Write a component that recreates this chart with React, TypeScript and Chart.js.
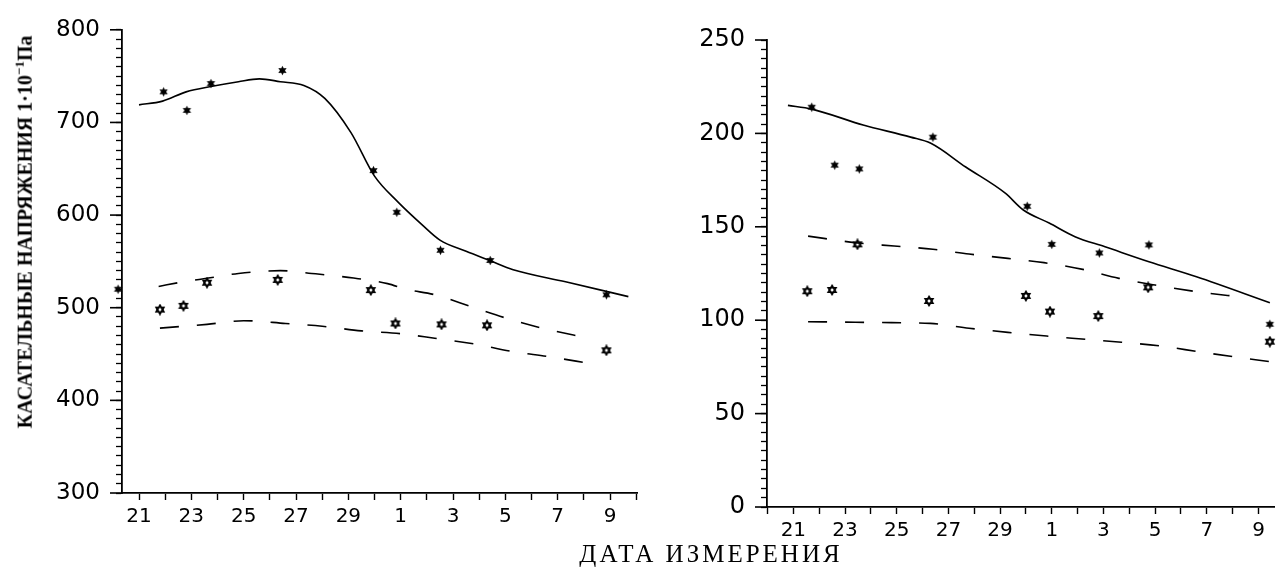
import React, { useEffect, useRef } from 'react';
import { Chart, registerables } from 'chart.js';

Chart.register(...registerables);

// ---------- shared axis labels ----------
const xLabelDays = [21, 23, 25, 27, 29, 31, 33, 35, 37, 39];
const xLabelTexts = ['21', '23', '25', '27', '29', '1', '3', '5', '7', '9'];
const yTitleMain = 'КАСАТЕЛЬНЫЕ НАПРЯЖЕНИЯ';
const yTitleUnitA = '1·10';
const yTitleUnitSup = '−1';
const yTitleUnitB = 'Па';
const xTitle = 'ДАТА ИЗМЕРЕНИЯ';

// ---------- left panel ----------
const leftTickDays = [21, 22, 23, 24, 25, 26, 27, 28, 29, 30, 31, 32, 33, 34, 35, 36, 37, 38, 39, 40];
const leftYMajor = [300, 400, 500, 600, 700, 800];

const leftSolidDays = [21.0, 21.9, 22.8, 23.8, 24.8, 25.6, 26.4, 27.3, 28.1, 29.1, 30.0, 30.9, 31.8, 32.5, 33.5, 34.4, 35.3, 37.3, 39.7];
const leftSolidValues = [719, 723, 733, 739, 744, 747, 744, 740, 726, 689, 642, 614, 590, 573, 561, 551, 541, 528, 512];

const leftDashUpperDays = [21.75, 22.7, 23.65, 24.8, 26.4, 27.6, 29.2, 30.5, 31.2, 32.3, 33.7, 35.0, 36.4, 38.2];
const leftDashUpperValues = [523, 528, 532, 537, 540, 537, 532, 526, 520, 514, 501, 489, 478, 467];

const leftDashLowerDays = [21.8, 23.6, 25.0, 26.6, 28.0, 29.5, 31.0, 32.3, 33.8, 35.2, 36.7, 38.2];
const leftDashLowerValues = [478, 482, 486, 483, 480, 475, 472, 467, 461, 453, 447, 440];

const leftFilledDays = [20.2, 21.94, 22.83, 23.75, 26.48, 29.96, 30.85, 32.52, 34.42, 38.86];
const leftFilledValues = [520, 733, 713, 742, 756, 648, 603, 562, 551, 514];

const leftHollowDays = [21.8, 22.7, 23.6, 26.3, 29.86, 30.8, 32.56, 34.3, 38.86];
const leftHollowValues = [498, 502, 527, 530, 519, 483, 482, 481, 454];

// ---------- right panel ----------
const rightTickDays = [20, 21, 22, 23, 24, 25, 26, 27, 28, 29, 30, 31, 32, 33, 34, 35, 36, 37, 38, 39];
const rightYMajor = [0, 50, 100, 150, 200, 250];

const rightSolidDays = [20.79, 21.71, 23.7, 25.54, 26.32, 27.67, 29.2, 29.9, 30.9, 31.9, 33.06, 34.76, 36.6, 39.44];
const rightSolidValues = [215, 213, 204.5, 198, 194.7, 182, 168, 159, 152, 144.7, 139.3, 131.3, 123.3, 109.4];

const rightDashUpperDays = [21.57, 23.4, 24.9, 26.4, 27.8, 29.3, 30.7, 32.2, 33.6, 35.0, 36.6, 38.4];
const rightDashUpperValues = [145, 141.5, 139.7, 138, 135.4, 133.1, 130.8, 127.2, 122.4, 118.8, 115.3, 112.3];

const rightDashLowerDays = [21.57, 23.4, 24.8, 26.3, 27.8, 29.3, 30.8, 32.3, 33.7, 35.2, 36.7, 38.2, 39.44];
const rightDashLowerValues = [99.2, 98.9, 98.7, 98.3, 95.7, 93.5, 91.5, 89.8, 88.2, 86.2, 83.1, 80.1, 77.8];

const rightFilledDays = [21.71, 22.6, 23.55, 26.4, 30.05, 31.0, 32.84, 34.76, 39.44];
const rightFilledValues = [214, 183, 181, 198, 161, 140.6, 136, 140.3, 97.8];

const rightHollowDays = [21.54, 22.5, 23.48, 26.25, 30.0, 30.93, 32.8, 34.73, 39.44];
const rightHollowValues = [115.5, 116.2, 140.6, 110.3, 113, 104.6, 102.2, 117.6, 88.5];

// ---------- helpers ----------
const pts = (xs: number[], ys: number[]) => xs.map((x, i) => ({ x, y: ys[i] }));

function makeFilledStar(): HTMLCanvasElement {
  const c = document.createElement('canvas');
  c.width = 11;
  c.height = 11;
  const g = c.getContext('2d')!;
  g.translate(5.5, 5.5);
  g.fillStyle = '#000';
  g.beginPath();
  for (let i = 0; i < 12; i++) {
    const r = i % 2 === 0 ? 4.8 : 2.5;
    const a = -Math.PI / 2 + (i * Math.PI) / 6;
    g.lineTo(r * Math.cos(a), r * Math.sin(a));
  }
  g.closePath();
  g.fill();
  return c;
}

function makeHollowStar(): HTMLCanvasElement {
  const c = document.createElement('canvas');
  c.width = 12;
  c.height = 12;
  const g = c.getContext('2d')!;
  g.translate(6, 6);
  g.strokeStyle = '#000';
  g.lineWidth = 1.6;
  for (const off of [-Math.PI / 2, Math.PI / 2]) {
    g.beginPath();
    for (let i = 0; i < 3; i++) {
      const a = off + (i * 2 * Math.PI) / 3;
      g.lineTo(4.5 * Math.cos(a), 4.5 * Math.sin(a));
    }
    g.closePath();
    g.stroke();
  }
  return c;
}

const majorTickPlugin = {
  id: 'majorTicks',
  afterDraw(chart: any, _args: any, opts: any) {
    const y = chart.scales.y;
    const ctx = chart.ctx;
    const x0 = chart.chartArea.left;
    ctx.save();
    ctx.strokeStyle = '#000';
    ctx.lineWidth = 1.6;
    for (const v of opts.values || []) {
      const py = y.getPixelForValue(v);
      ctx.beginPath();
      ctx.moveTo(x0 - 12, py);
      ctx.lineTo(x0, py);
      ctx.stroke();
    }
    ctx.restore();
  },
};

type PanelDef = {
  xMin: number;
  xMax: number;
  tickDays: number[];
  yMin: number;
  yMax: number;
  yStep: number;
  yMajor: number[];
  solid: { x: number; y: number }[];
  dashU: { x: number; y: number }[];
  dashL: { x: number; y: number }[];
  filled: { x: number; y: number }[];
  hollow: { x: number; y: number }[];
  yWidth: number;
  padTop: number;
  padRight: number;
  padBottom: number;
  yFont: number;
};

function buildConfig(p: PanelDef): any {
  const filledImg = makeFilledStar();
  const hollowImg = makeHollowStar();
  const lineBase = {
    showLine: true,
    pointRadius: 0,
    borderColor: '#000',
    borderWidth: 1.6,
    cubicInterpolationMode: 'monotone',
    fill: false,
  };
  return {
    type: 'scatter',
    data: {
      datasets: [
        { data: p.filled, pointStyle: filledImg, pointRadius: 4, showLine: false, clip: false },
        { data: p.hollow, pointStyle: hollowImg, pointRadius: 5, showLine: false, clip: false },
        { ...lineBase, data: p.solid },
        { ...lineBase, data: p.dashU, borderDash: [19, 18] },
        { ...lineBase, data: p.dashL, borderDash: [19, 18] },
      ],
    },
    plugins: [majorTickPlugin],
    options: {
      animation: false,
      responsive: false,
      devicePixelRatio: 1,
      events: [],
      layout: { padding: { left: 0, top: p.padTop, right: p.padRight, bottom: p.padBottom } },
      plugins: {
        legend: { display: false },
        tooltip: { enabled: false },
        majorTicks: { values: p.yMajor },
      },
      scales: {
        x: {
          type: 'linear',
          min: p.xMin,
          max: p.xMax,
          afterBuildTicks: (axis: any) => {
            axis.ticks = p.tickDays.map((v) => ({ value: v }));
          },
          afterFit: (axis: any) => {
            axis.height = 60;
          },
          grid: { drawOnChartArea: false, drawTicks: true, tickLength: 7, color: '#000', tickWidth: 1.4 },
          border: { display: true, color: '#000', width: 1.8 },
          ticks: {
            autoSkip: false,
            maxRotation: 0,
            padding: 5,
            color: '#000',
            font: { family: 'DejaVu Sans', size: 20 },
            callback: (v: number) => {
              const i = xLabelDays.indexOf(v);
              return i >= 0 ? xLabelTexts[i] : '';
            },
          },
        },
        y: {
          type: 'linear',
          min: p.yMin,
          max: p.yMax,
          afterBuildTicks: (axis: any) => {
            const t = [];
            for (let v = p.yMin; v <= p.yMax + 1e-6; v += p.yStep) t.push({ value: v });
            axis.ticks = t;
          },
          afterFit: (axis: any) => {
            axis.width = p.yWidth;
          },
          grid: { drawOnChartArea: false, drawTicks: true, tickLength: 6, color: '#000', tickWidth: 1.3 },
          border: { display: true, color: '#000', width: 1.8 },
          ticks: {
            autoSkip: false,
            padding: 16,
            color: '#000',
            font: { family: 'DejaVu Sans', size: p.yFont },
            callback: (v: number) => (p.yMajor.includes(v) ? String(v) : ''),
          },
        },
      },
    },
  };
}

function Panel({ def, left, width }: { def: PanelDef; left: number; width: number }) {
  const ref = useRef<HTMLCanvasElement>(null);
  useEffect(() => {
    const chart = new Chart(ref.current!, buildConfig(def));
    return () => chart.destroy();
  }, []);
  return (
    <canvas
      ref={ref}
      width={width}
      height={575}
      style={{ position: 'absolute', left, top: 0, width, height: 575 }}
    />
  );
}

const leftDef: PanelDef = {
  xMin: 20.35,
  xMax: 40.03,
  tickDays: leftTickDays,
  yMin: 300,
  yMax: 800,
  yStep: 10,
  yMajor: leftYMajor,
  solid: pts(leftSolidDays, leftSolidValues),
  dashU: pts(leftDashUpperDays, leftDashUpperValues),
  dashL: pts(leftDashLowerDays, leftDashLowerValues),
  filled: pts(leftFilledDays, leftFilledValues),
  hollow: pts(leftHollowDays, leftHollowValues),
  yWidth: 122,
  padTop: 26,
  padRight: 13,
  padBottom: 22,
  yFont: 23,
};

const rightDef: PanelDef = {
  xMin: 19.98,
  xMax: 39.6,
  tickDays: rightTickDays,
  yMin: 0,
  yMax: 250,
  yStep: 5,
  yMajor: rightYMajor,
  solid: pts(rightSolidDays, rightSolidValues),
  dashU: pts(rightDashUpperDays, rightDashUpperValues),
  dashL: pts(rightDashLowerDays, rightDashLowerValues),
  filled: pts(rightFilledDays, rightFilledValues),
  hollow: pts(rightHollowDays, rightHollowValues),
  yWidth: 117,
  padTop: 40,
  padRight: 3,
  padBottom: 8,
  yFont: 24,
};

export default function App() {
  return (
    <div
      style={{
        position: 'absolute',
        left: 0,
        top: 0,
        width: 1280,
        height: 575,
        background: '#fff',
        overflow: 'hidden',
      }}
    >
      <Panel def={leftDef} left={0} width={650} />
      <Panel def={rightDef} left={650} width={630} />
      <div
        style={{
          position: 'absolute',
          left: 24,
          top: 232,
          transform: 'translate(-50%, -50%) rotate(-90deg)',
          whiteSpace: 'nowrap',
          fontFamily: '"Liberation Serif", serif',
          fontWeight: 'bold',
          fontSize: 20,
          color: '#000',
        }}
      >
        {yTitleMain} {yTitleUnitA}
        <span style={{ fontSize: 13, verticalAlign: 'super' }}>{yTitleUnitSup}</span>
        {yTitleUnitB}
      </div>
      <div
        style={{
          position: 'absolute',
          left: 711,
          top: 554,
          transform: 'translate(-50%, -50%)',
          whiteSpace: 'nowrap',
          fontFamily: '"Liberation Serif", serif',
          fontSize: 25,
          letterSpacing: 3,
          color: '#000',
        }}
      >
        {xTitle}
      </div>
    </div>
  );
}
